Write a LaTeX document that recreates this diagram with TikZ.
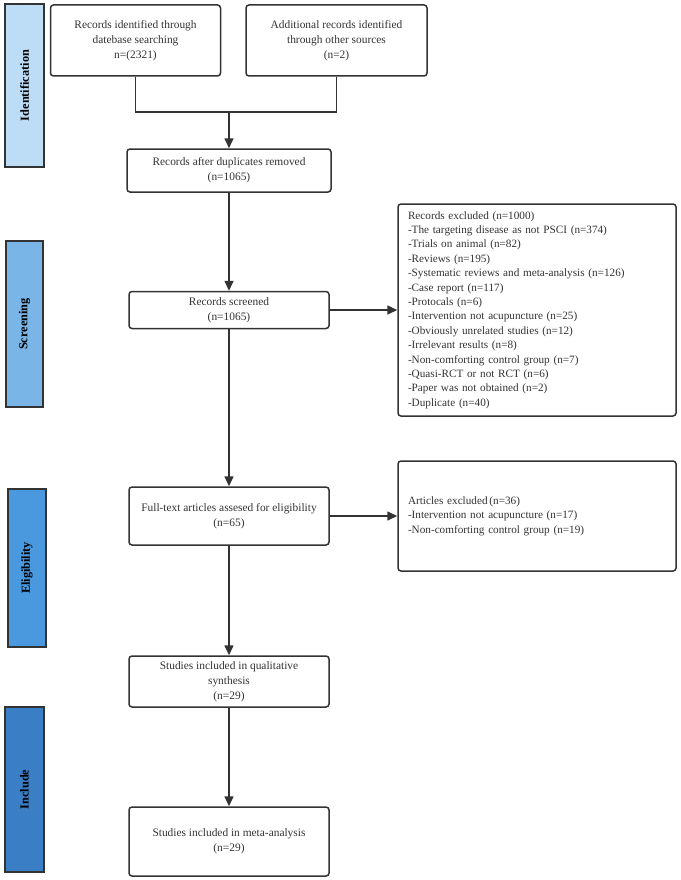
\documentclass[tikz,border=0pt]{standalone}
\usepackage{fontspec}
\setmainfont{Liberation Serif}
\usetikzlibrary{arrows.meta}
\definecolor{ln}{HTML}{333333}
\definecolor{cid}{HTML}{BDDDF7}
\definecolor{cscr}{HTML}{7AB5E8}
\definecolor{celi}{HTML}{4A98DE}
\definecolor{cinc}{HTML}{3A7EC6}
\tikzset{
  box/.style={draw=ln, line width=1.5pt, rounded corners=3pt, fill=white, text=ln, align=center, inner sep=2pt, font=\fontsize{11.4}{15}\selectfont},
  exbox/.style={box, align=left, inner xsep=10pt, font=\fontsize{11.2}{14.4}\selectfont},
  bar/.style={draw=ln, line width=1.5pt, inner sep=0pt},
  bartext/.style={rotate=90, text=black, font=\fontsize{12.3}{14}\selectfont\bfseries},
  conn/.style={draw=ln, line width=1.6pt},
  arr/.style={conn, -{Triangle[length=10pt,width=9pt]}}
}
\begin{document}
\begin{tikzpicture}[x=1pt,y=-1pt]
\useasboundingbox (0,0) rectangle (680,880);
% phase bars
\node[bar, fill=cid, minimum width=39pt, minimum height=163pt] (pid) at (24.5,85.5) {};
\node[bartext] (pidt) at (pid.center) {Identification};
\node[bar, fill=cscr, minimum width=37pt, minimum height=166pt] (pscr) at (24.5,324) {};
\node[bartext] (pscrt) at (pscr.center) {Screening};
\node[bar, fill=celi, minimum width=38pt, minimum height=158pt] (peli) at (27,568) {};
\node[bartext] (pelit) at (peli.center) {Eligibility};
\node[bar, fill=cinc, minimum width=39pt, minimum height=165pt] (pinc) at (24.5,789.5) {};
\node[bartext] (pinct) at (pinc.center) {Include};
% boxes
\node[box, minimum width=170pt, minimum height=71pt] (b1) at (135.5,40.5) {Records identified through\\datebase searching\\n=(2321)};
\node[box, minimum width=181pt, minimum height=71pt] (b2) at (336.5,40.5) {Additional records identified\\through other sources\\(n=2)};
\node[box, minimum width=204pt, minimum height=43pt] (b3) at (229,170.5) {Records after duplicates removed\\(n=1065)};
\node[box, minimum width=200pt, minimum height=37pt] (b4) at (229,310) {Records screened\\(n=1065)};
\node[exbox, text width=258pt, minimum height=212pt] (ex1) at (537,310) {Records excluded (n=1000)\\
-The targeting disease as not PSCI (n=374)\\
-Trials on animal (n=82)\\
-Reviews (n=195)\\
-Systematic reviews and meta-analysis (n=126)\\
-Case report (n=117)\\
-Protocals (n=6)\\
-Intervention not acupuncture (n=25)\\
-Obviously unrelated studies (n=12)\\
-Irrelevant results (n=8)\\
-Non-comforting control group (n=7)\\
-Quasi-RCT or not RCT (n=6)\\
-Paper was not obtained (n=2)\\
-Duplicate (n=40)};
\node[box, minimum width=200pt, minimum height=58pt] (b5) at (229,516) {Full-text articles assesed for eligibility\\(n=65)};
\node[exbox, text width=258pt, minimum height=110pt] (ex2) at (537,516) {Articles excluded\,(n=36)\\
-Intervention not acupuncture (n=17)\\
-Non-comforting control group (n=19)};
\node[box, minimum width=200pt, minimum height=51pt] (b7) at (229,681.5) {Studies included in qualitative\\synthesis\\(n=29)};
\node[box, minimum width=200pt, minimum height=69pt] (b8) at (229,841.5) {Studies included in meta-analysis\\(n=29)};
% connectors
\coordinate (j) at (229,112);
\draw[conn] (b1.south) |- (j);
\draw[conn] (b2.south) |- (j);
\draw[arr] (j) -- (b3.north);
\draw[arr] (b3.south) -- (b4.north);
\draw[arr] (b4.east) -- (ex1.west);
\draw[arr] (b4.south) -- (b5.north);
\draw[arr] (b5.east) -- (ex2.west);
\draw[arr] (b5.south) -- (b7.north);
\draw[arr] (b7.south) -- (b8.north);
\end{tikzpicture}
\end{document}
